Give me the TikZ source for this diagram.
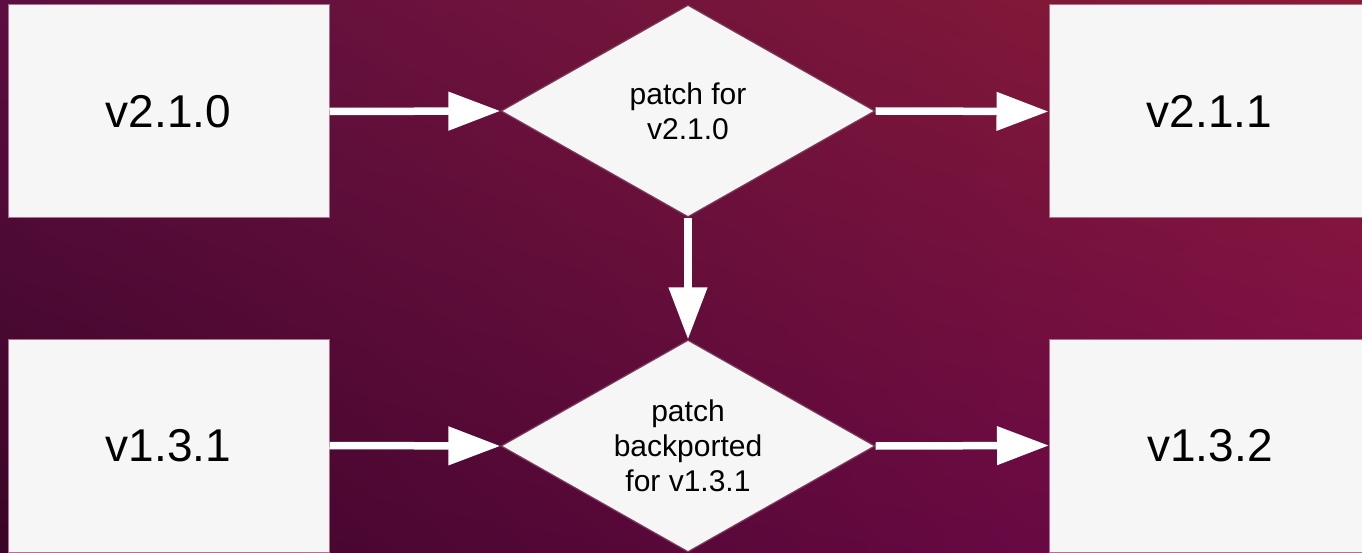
\documentclass[tikz,border=0pt]{standalone}
\usepackage{fontspec}
\setmainfont{Liberation Sans}
\usetikzlibrary{shapes.geometric,arrows.meta,shadings}
\definecolor{bgUL}{HTML}{5C0E40}
\definecolor{bgUR}{HTML}{8C1B36}
\definecolor{bgLL}{HTML}{3A0527}
\definecolor{bgLR}{HTML}{760A4C}
\definecolor{boxfill}{HTML}{F6F6F6}
\definecolor{boxline}{HTML}{B07090}
\definecolor{diaLine}{HTML}{7A3A5A}
\tikzset{
  verbox/.style={draw=boxline, line width=1pt, fill=boxfill, rectangle,
    minimum width=321pt, minimum height=213pt, inner sep=0pt,
    font=\fontsize{46pt}{52pt}\selectfont, text=black},
  patchbox/.style={draw=diaLine, line width=1.2pt, fill=boxfill, diamond,
    aspect=1.764, minimum width=374pt, minimum height=212pt, inner sep=0pt,
    align=center, font=\fontsize{30pt}{35pt}\selectfont, text=black},
  flow/.style={draw=white, line width=7.5pt,
    -{Triangle[length=52pt,width=37pt]}}
}
\begin{document}
\begin{tikzpicture}[x=1pt,y=-1pt]
\useasboundingbox (0,0) rectangle (1362,553);
\begin{scope}
\clip (0,0) rectangle (1362,553);
\shade[upper left=bgUL, upper right=bgUR, lower left=bgLL, lower right=bgLR]
  (0,0) rectangle (1362,553);
\node[verbox] (b210) at (168.5,111.5) {v2.1.0};
\node[verbox] (b131) at (168.5,445.5) {v1.3.1};
\node[verbox] (b211) at (1209.5,111.5) {v2.1.1};
\node[verbox] (b132) at (1210,445.5) {v1.3.2};
\node[patchbox] (d1) at (688,111) {patch for\\v2.1.0};
\node[patchbox] (d2) at (688,446) {patch\\backported\\for v1.3.1};
\draw[flow] (b210.east) -- (d1.west);
\draw[flow] (d1.east) -- (b211.west);
\draw[flow] (d1.south) -- (d2.north);
\draw[flow] (b131.east) -- (d2.west);
\draw[flow] (d2.east) -- (b132.west);
\end{scope}
\end{tikzpicture}
\end{document}
